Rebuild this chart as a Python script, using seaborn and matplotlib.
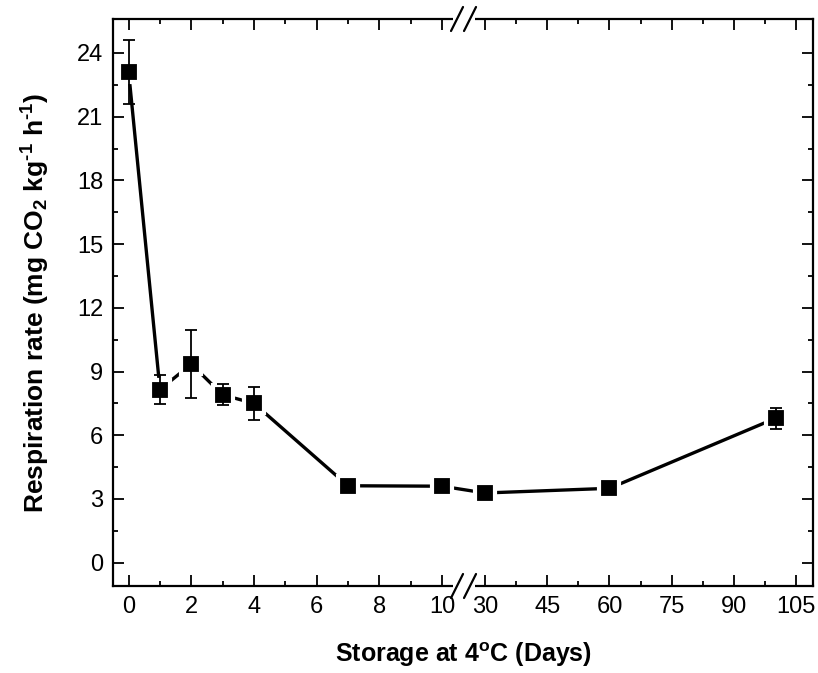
import numpy as np
import pandas as pd
import seaborn as sns
import matplotlib.pyplot as plt
from matplotlib.ticker import FixedLocator
from matplotlib.patches import Rectangle

# storage time (days) and respiration rate
days = [0, 1, 2, 3, 4, 7, 10, 30, 60, 100]
rate = [23.1, 8.15, 9.35, 7.9, 7.5, 3.62, 3.6, 3.28, 3.5, 6.8]
err = [1.5, 0.7, 1.6, 0.5, 0.77, 0.1, 0.1, 0.1, 0.1, 0.5]

x_major = [0, 2, 4, 6, 8, 10, 30, 45, 60, 75, 90, 105]
x_minor = [1, 3, 5, 7, 9, 37.5, 52.5, 67.5, 82.5, 97.5]
y_major = list(range(0, 25, 3))

df = pd.DataFrame({"day": days, "rate": rate, "err": err})

sns.set_theme(style="ticks")
plt.rcParams["font.family"] = ["Liberation Sans", "DejaVu Sans"]
plt.rcParams["mathtext.fontset"] = "custom"
plt.rcParams["mathtext.rm"] = "Liberation Sans:bold"
plt.rcParams["mathtext.default"] = "rm"

# broken x axis: 0-10 linear, compressed gap, then 30-105 on a finer scale
B1, B2, GAP, K = 10.3, 27.8, 0.78, 0.1326


def fwd(x):
    x = np.asarray(x, float)
    return np.where(x <= B1, x,
                    np.where(x < B2, B1 + (x - B1) * GAP / (B2 - B1),
                             B1 + GAP + (x - B2) * K))


def inv(y):
    y = np.asarray(y, float)
    return np.where(y <= B1, y,
                    np.where(y < B1 + GAP, B1 + (y - B1) * (B2 - B1) / GAP,
                             B2 + (y - B1 - GAP) / K))


fig = plt.figure(figsize=(8.18, 6.73), dpi=100)
ax = fig.add_axes([113 / 818, 1 - 586 / 673, 700 / 818, 567 / 673])
ax.set_xscale("function", functions=(fwd, inv))

sns.lineplot(data=df, x="day", y="rate", color="black", linewidth=2.4,
             marker="s", markersize=14.5, markerfacecolor="black",
             markeredgecolor="white", markeredgewidth=3, ax=ax, zorder=2)
ax.errorbar(df["day"], df["rate"], yerr=df["err"], fmt="none",
            ecolor="black", elinewidth=1.3, capsize=4.5, capthick=1.3, zorder=3)

ax.set_xlim(-0.5, 109)
ax.set_ylim(-1.1, 25.6)
ax.xaxis.set_major_locator(FixedLocator(x_major))
ax.xaxis.set_minor_locator(FixedLocator(x_minor))
ax.set_xticklabels([str(t) for t in x_major])
ax.set_yticks(y_major)
ax.set_yticks(np.arange(1.5, 25, 3), minor=True)

for s in ax.spines.values():
    s.set_linewidth(1.6)
    s.set_color("black")
ax.tick_params(which="both", direction="in", top=True, right=True,
               color="black", width=1.3, labelsize=17, labelcolor="black")
ax.tick_params(which="major", length=8, pad=7)
ax.tick_params(which="minor", length=3.5)

ax.set_xlabel("Storage at 4$^\\mathregular{o}$C (Days)", fontsize=18,
              fontweight="bold", color="black", labelpad=16)
ax.set_ylabel("Respiration rate (mg CO$_2$ kg$^{\\text{-1}}$ h$^{\\text{-1}}$)",
              fontsize=19, fontweight="bold", color="black", labelpad=18)

# break marks on top and bottom spines
lo = fwd(-0.5)
hi = fwd(109)
c = (B1 + GAP / 2 - lo) / (hi - lo)
pw, ph = 700.0, 567.0
for yb in (0.0, 1.0):
    ax.add_patch(Rectangle((c - 11 / pw, yb - 4 / ph), 22 / pw, 8 / ph,
                           transform=ax.transAxes, facecolor="white",
                           edgecolor="none", clip_on=False, zorder=5))
    for off in (-6.5, 6.5):
        xc = c + off / pw
        ax.plot([xc - 6 / pw, xc + 6 / pw], [yb - 12 / ph, yb + 12 / ph],
                transform=ax.transAxes, color="black", lw=1.6,
                clip_on=False, zorder=6)

fig.savefig("out.png", dpi=100)
